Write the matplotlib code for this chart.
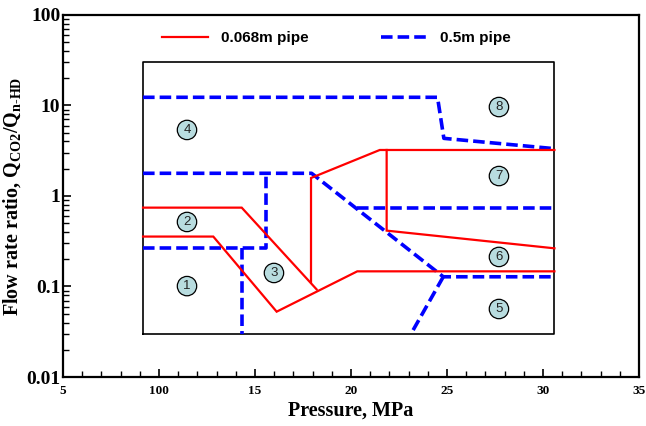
import matplotlib
matplotlib.use("Agg")
import matplotlib.pyplot as plt
from matplotlib.lines import Line2D

# ---- data ----
box_x = [9.17, 30.6, 30.6, 9.17, 9.17]
box_y = [0.03, 0.03, 30.0, 30.0, 0.03]

red1_x = [9.17, 14.31, 18.21]
red1_y = [0.743, 0.743, 0.093]
red2_x = [9.17, 12.83, 16.13, 20.33, 30.6]
red2_y = [0.356, 0.356, 0.0527, 0.147, 0.147]
red3_x = [17.92, 17.92, 21.5, 30.6]
red3_y = [0.112, 1.58, 3.22, 3.22]
red4_x = [21.86, 21.86, 30.6]
red4_y = [3.22, 0.414, 0.264]

blue1_x = [9.17, 24.51, 24.84, 30.6]
blue1_y = [12.3, 12.3, 4.33, 3.33]
blue2_x = [9.17, 17.95, 24.81, 30.6]
blue2_y = [1.78, 1.78, 0.128, 0.128]
blue3_x = [9.17, 15.57, 15.57]
blue3_y = [0.264, 0.264, 1.78]
blue4_x = [14.31, 14.31]
blue4_y = [0.264, 0.03]
blue5_x = [24.81, 23.24]
blue5_y = [0.128, 0.033]
blue6_x = [20.29, 30.6]
blue6_y = [0.743, 0.743]

region_labels = ["1", "2", "3", "4", "5", "6", "7", "8"]
region_x = [11.46, 11.46, 15.99, 11.46, 27.71, 27.71, 27.71, 27.71]
region_y = [0.101, 0.516, 0.141, 5.36, 0.0564, 0.212, 1.66, 9.6]

xticks = [5, 10, 15, 20, 25, 30, 35]
xtick_labels = ["5", "100", "15", "20", "25", "30", "35"]
yticks = [0.01, 0.1, 1, 10, 100]
ytick_labels = ["0.01", "0.1", "1", "10", "100"]

# ---- style ----
plt.rcParams['mathtext.fontset'] = 'custom'
plt.rcParams['mathtext.rm'] = 'Liberation Serif:bold'
plt.rcParams['mathtext.it'] = 'Liberation Serif:bold'
plt.rcParams['mathtext.bf'] = 'Liberation Serif:bold'

fig = plt.figure(figsize=(6.46, 4.26), dpi=100)
ax = fig.add_axes([0.0975, 0.115, 0.8915, 0.85])
ax.set_yscale('log')
ax.set_xlim(5, 35)
ax.set_ylim(0.01, 100)

ax.plot(box_x, box_y, color='black', lw=1.2, zorder=1)

red_kw = dict(color='#ff0000', lw=1.6, solid_joinstyle='miter', zorder=3)
blue_kw = dict(color='#0000ff', lw=2.6, dashes=(3.2, 1.4), zorder=2,
               dash_joinstyle='round', dash_capstyle='butt')

ax.plot(red1_x, red1_y, **red_kw)
ax.plot(red2_x, red2_y, **red_kw)
ax.plot(red3_x, red3_y, **red_kw)
ax.plot(red4_x, red4_y, **red_kw)

for bx, by in [(blue1_x, blue1_y), (blue2_x, blue2_y), (blue3_x, blue3_y),
               (blue4_x, blue4_y), (blue5_x, blue5_y), (blue6_x, blue6_y)]:
    ax.plot(bx, by, **blue_kw)

for lab, rx, ry in zip(region_labels, region_x, region_y):
    ax.text(rx, ry, lab, ha='center', va='center', fontsize=9.5,
            family='Liberation Sans', color='#222222', zorder=5,
            bbox=dict(boxstyle='circle,pad=0.28', fc='#b8dcdf', ec='black', lw=0.9))

# legend
h1 = Line2D([], [], color='#ff0000', lw=1.6)
h2 = Line2D([], [], color='#0000ff', lw=2.6, dashes=(3.2, 1.4))
leg = ax.legend([h1, h2], ["0.068m pipe", "0.5m pipe"], ncol=2, frameon=False,
                loc='center', bbox_to_anchor=(0.475, 0.936), handlelength=3.0,
                handletextpad=0.9, columnspacing=4.7,
                prop=dict(family='Liberation Sans', weight='bold', size=11))

ax.set_xticks(xticks)
ax.set_xticklabels(xtick_labels, family='Liberation Serif', weight='bold', fontsize=9.5)
ax.set_xticks(range(5, 36), minor=True)
ax.set_yticks(yticks)
ax.set_yticklabels(ytick_labels, family='Liberation Serif', weight='bold', fontsize=14)

ax.tick_params(axis='both', which='both', direction='in', top=False, right=False)
ax.tick_params(axis='both', which='major', length=6, width=1.2)
ax.tick_params(axis='both', which='minor', length=4, width=1.0)
ax.tick_params(axis='x', which='major', pad=6)
ax.tick_params(axis='y', which='major', pad=2)

for sp in ax.spines.values():
    sp.set_linewidth(1.6)

ax.set_xlabel("Pressure, MPa", family='Liberation Serif', weight='bold', fontsize=14.5, labelpad=2)
ax.set_ylabel(r"Flow rate ratio, Q$_{\mathrm{CO2}}$/Q$_{\mathrm{n\text{-}HD}}$",
              family='Liberation Serif', weight='bold', fontsize=14.5, labelpad=2)

fig.savefig("out.png", dpi=100)
